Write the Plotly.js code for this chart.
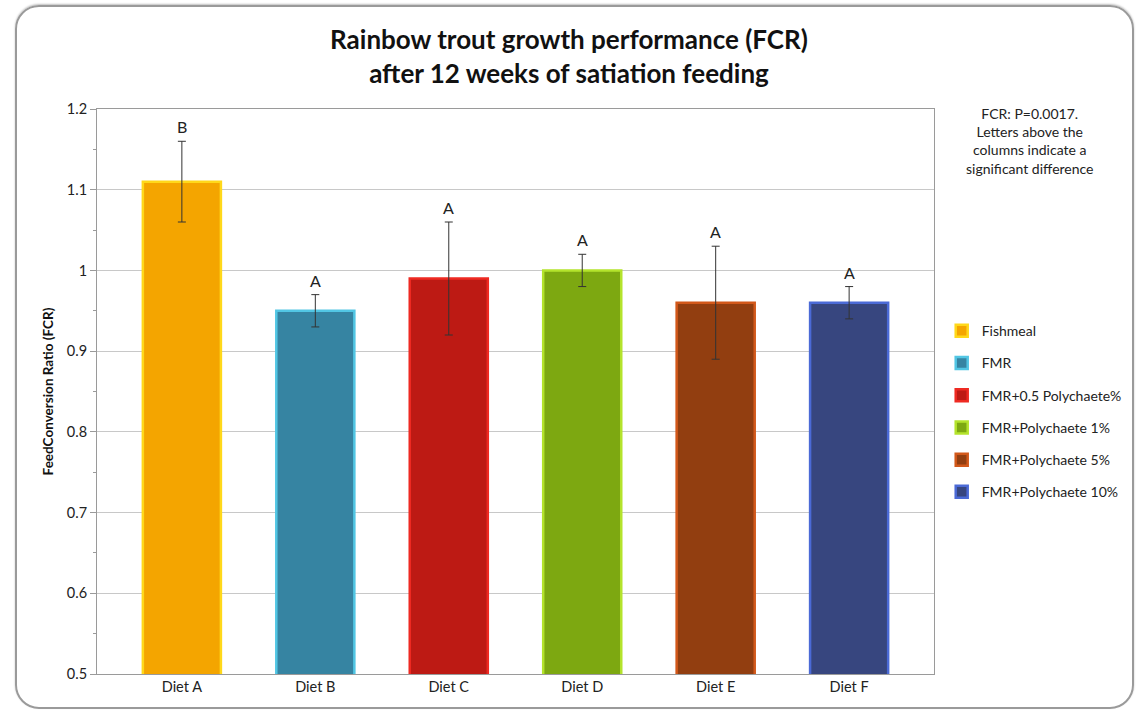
<!DOCTYPE html>
<html>
<head>
<meta charset="utf-8">
<script src="https://cdn.plot.ly/plotly-3.0.1.min.js"></script>
<style>
  html, body { margin: 0; padding: 0; background: #fff; }
  #frame { position: absolute; left: 15px; top: 5px; width: 1119px; height: 704px;
           border: 2px solid #9a9a9a; border-radius: 24px; box-sizing: border-box;
           box-shadow: 0 -1px 2px rgba(0,0,0,0.25); }
  #chart { position: absolute; left: 0; top: 0; width: 1138px; height: 714px; }
</style>
</head>
<body>
<div id="frame"></div>
<div id="chart"></div>
<script>
const categories = ["Diet A", "Diet B", "Diet C", "Diet D", "Diet E", "Diet F"];
const seriesNames = ["Fishmeal", "FMR", "FMR+0.5 Polychaete%", "FMR+Polychaete 1%", "FMR+Polychaete 5%", "FMR+Polychaete 10%"];
const fcr = [1.11, 0.95, 0.99, 1.00, 0.96, 0.96];
const fcrError = [0.05, 0.02, 0.07, 0.02, 0.07, 0.02];
const letters = ["B", "A", "A", "A", "A", "A"];
const fills = ["#F4A500", "#3684A2", "#BD1A14", "#7DA811", "#923E10", "#37467F"];
const borders = ["#FFD81A", "#52C6E4", "#EE2A22", "#B4E32C", "#D2581A", "#4B6AD6"];

const traces = categories.map((c, i) => ({
  type: "bar",
  name: seriesNames[i],
  legendgroup: "g" + i,
  x: [c],
  y: [fcr[i]],
  width: 0.585,
  marker: { color: fills[i], line: { color: borders[i], width: 2.5 } },
  error_y: { type: "data", array: [fcrError[i]], visible: true, color: "#333", thickness: 1, width: 4 },
  hoverinfo: "x+y"
}));

const annotations = categories.map((c, i) => ({
  x: c, y: fcr[i] + fcrError[i], xref: "x", yref: "y",
  text: letters[i], showarrow: false, yanchor: "bottom", yshift: 3,
  font: { family: "Lato, 'Open Sans', sans-serif", size: 16, color: "#222" }
}));

annotations.push({
  xref: "paper", yref: "paper", x: 1.115, y: 1.01, xanchor: "center", yanchor: "top",
  showarrow: false, align: "center",
  text: "FCR: P=0.0017.<br>Letters above the<br>columns indicate a<br>significant difference",
  font: { family: "Lato, 'Open Sans', sans-serif", size: 14, color: "#222" }
});

const layout = {
  width: 1138, height: 714,
  paper_bgcolor: "rgba(0,0,0,0)", plot_bgcolor: "#fff",
  margin: { l: 97, r: 203, t: 109, b: 40 },
  barmode: "overlay",
  showlegend: true,
  title: {
    text: "<b>Rainbow trout growth performance (FCR)<br>after 12 weeks of satiation feeding</b>",
    x: 0.5, xanchor: "center", xref: "container", yref: "container",
    y: 0.931, yanchor: "middle",
    font: { family: "Lato, 'Open Sans', sans-serif", size: 26, color: "#111" }
  },
  font: { family: "Lato, 'Open Sans', sans-serif", color: "#222" },
  xaxis: {
    type: "category", range: [-0.636, 5.636],
    showline: true, linecolor: "#9a9a9a", linewidth: 1, mirror: true,
    ticks: "", showgrid: false,
    tickfont: { size: 14.5, color: "#222" }
  },
  yaxis: {
    range: [0.5, 1.2], dtick: 0.1, tick0: 0.5,
    showline: true, linecolor: "#9a9a9a", linewidth: 1, mirror: true,
    showgrid: true, gridcolor: "#c8c8c8", gridwidth: 1,
    ticks: "outside", ticklen: 6, tickcolor: "#9a9a9a",
    minor: { dtick: 0.05, ticks: "outside", ticklen: 3, tickcolor: "#9a9a9a", showgrid: false },
    zeroline: false,
    tickfont: { size: 14.5, color: "#222" },
    title: { text: "<b>FeedConversion Ratio (FCR)</b>", standoff: 10,
             font: { size: 13.5, color: "#111" } }
  },
  legend: {
    x: 1.008, xanchor: "left", y: 0.635, yanchor: "top",
    font: { size: 14, color: "#222" },
    itemwidth: 30, tracegroupgap: 11, traceorder: "grouped",
    bgcolor: "rgba(0,0,0,0)"
  },
  annotations: annotations
};

Plotly.newPlot("chart", traces, layout, { displayModeBar: false, staticPlot: true });
</script>
</body>
</html>
